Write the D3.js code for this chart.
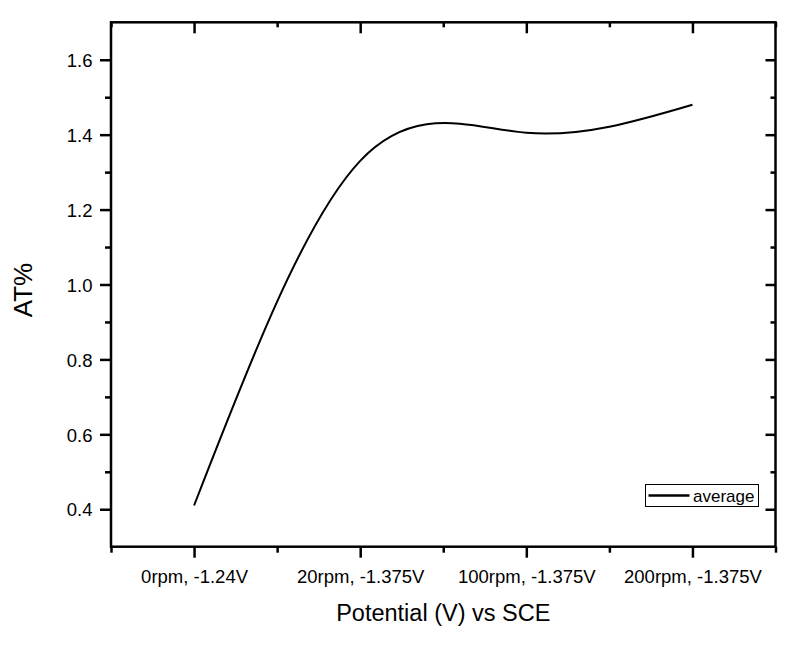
<!DOCTYPE html>
<html>
<head>
<meta charset="utf-8">
<script src="https://cdn.jsdelivr.net/npm/d3@7"></script>
<style>
  html, body { margin: 0; padding: 0; background: #fff; }
  svg { display: block; }
  text { font-family: Arial, "Liberation Sans", sans-serif; fill: #000; }
</style>
</head>
<body>
<svg id="chart" width="786" height="645"></svg>
<script>
// ---- data ----
const categories = ["0rpm, -1.24V", "20rpm, -1.375V", "100rpm, -1.375V", "200rpm, -1.375V"];
const averageValues = [0.41, 1.33, 1.405, 1.48];
const yTickValues = [0.4, 0.6, 0.8, 1.0, 1.2, 1.4, 1.6];
const yMinorTickValues = [0.5, 0.7, 0.9, 1.1, 1.3, 1.5];
const xMinorTickValues = [-0.5, 0.5, 1.5, 2.5, 3.5];
const seriesName = "average";
const xTitle = "Potential (V) vs SCE";
const yTitle = "AT%";

(function () {
// ---- layout ----
const pL = 111, pR = 775.5, pT = 22.3, pB = 546.7;
const svg = d3.select("#chart");

const x = d3.scaleLinear().domain([-0.5, categories.length - 0.5]).range([pL, pR]);
const y = d3.scaleLinear().domain([0.3, 1.7]).range([pB, pT]);

const axisStroke = 2.5;

function styleAxis(g) {
  g.select(".domain").remove();
  g.selectAll(".tick line").attr("stroke", "#000").attr("stroke-width", axisStroke);
}

// bottom axis major (outward)
const gxb = svg.append("g").attr("transform", `translate(0,${pB})`)
  .call(d3.axisBottom(x).tickValues(d3.range(categories.length))
    .tickFormat(i => categories[i]).tickSize(11).tickSizeOuter(0));
styleAxis(gxb);
gxb.selectAll(".tick text").attr("y", 36).attr("dy", 0)
  .attr("font-size", 18.5).attr("font-family", "Arial, 'Liberation Sans', sans-serif");
// bottom axis minor
const gxbm = svg.append("g").attr("transform", `translate(0,${pB})`)
  .call(d3.axisBottom(x).tickValues(xMinorTickValues).tickFormat("").tickSize(6).tickSizeOuter(0));
styleAxis(gxbm);

// top axis (inward)
const gxt = svg.append("g").attr("transform", `translate(0,${pT})`)
  .call(d3.axisBottom(x).tickValues(d3.range(categories.length)).tickFormat("").tickSize(11).tickSizeOuter(0));
styleAxis(gxt);
const gxtm = svg.append("g").attr("transform", `translate(0,${pT})`)
  .call(d3.axisBottom(x).tickValues(xMinorTickValues).tickFormat("").tickSize(5).tickSizeOuter(0));
styleAxis(gxtm);

// left axis major (outward)
const gyl = svg.append("g").attr("transform", `translate(${pL},0)`)
  .call(d3.axisLeft(y).tickValues(yTickValues).tickFormat(d3.format(".1f")).tickSize(11).tickSizeOuter(0));
styleAxis(gyl);
gyl.selectAll(".tick text").attr("x", -18.5).attr("dy", "0.36em")
  .attr("font-size", 18.5).attr("font-family", "Arial, 'Liberation Sans', sans-serif");
const gylm = svg.append("g").attr("transform", `translate(${pL},0)`)
  .call(d3.axisLeft(y).tickValues(yMinorTickValues).tickFormat("").tickSize(6).tickSizeOuter(0));
styleAxis(gylm);

// right axis (inward)
const gyr = svg.append("g").attr("transform", `translate(${pR},0)`)
  .call(d3.axisRight(y).tickValues(yTickValues).tickFormat("").tickSize(-10).tickSizeOuter(0));
styleAxis(gyr);
const gyrm = svg.append("g").attr("transform", `translate(${pR},0)`)
  .call(d3.axisRight(y).tickValues(yMinorTickValues).tickFormat("").tickSize(-5).tickSizeOuter(0));
styleAxis(gyrm);

// frame
svg.append("rect")
  .attr("x", pL).attr("y", pT)
  .attr("width", pR - pL).attr("height", pB - pT)
  .attr("fill", "none").attr("stroke", "#000").attr("stroke-width", axisStroke);

// curve
const line = d3.line()
  .x((d, i) => x(i))
  .y(d => y(d))
  .curve(d3.curveNatural);
svg.append("path")
  .datum(averageValues)
  .attr("d", line)
  .attr("fill", "none")
  .attr("stroke", "#000")
  .attr("stroke-width", 2);

// axis titles
svg.append("text")
  .attr("x", (pL + pR) / 2).attr("y", 620.5)
  .attr("text-anchor", "middle").attr("font-size", 23.5)
  .text(xTitle);
svg.append("text")
  .attr("transform", "translate(31.5,290) rotate(-90)")
  .attr("text-anchor", "middle").attr("font-size", 26)
  .text(yTitle);

// legend
const lg = svg.append("g");
lg.append("rect").attr("x", 645.5).attr("y", 484.5).attr("width", 113).attr("height", 22)
  .attr("fill", "#fff").attr("stroke", "#000").attr("stroke-width", 1);
lg.append("line").attr("x1", 648.5).attr("x2", 689.5).attr("y1", 495.5).attr("y2", 495.5)
  .attr("stroke", "#000").attr("stroke-width", 2.5);
lg.append("text").attr("x", 693).attr("y", 501.5).attr("font-size", 17).text(seriesName);
})();
</script>
</body>
</html>
